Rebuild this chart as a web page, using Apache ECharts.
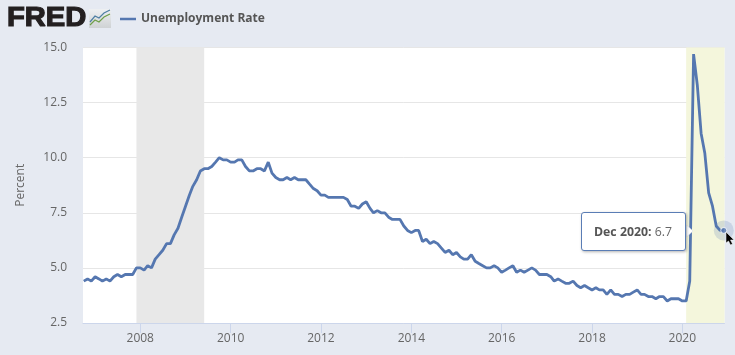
<!DOCTYPE html>
<html>
<head>
<meta charset="utf-8">
<title>Unemployment Rate</title>
<style>
	html, body { margin: 0; padding: 0; background: #e6eaf2; }
	#chart { width: 735px; height: 355px; }
</style>
<script src="https://cdn.jsdelivr.net/npm/echarts@6/dist/echarts.min.js"></script>
</head>
<body>
<div id="chart"></div>
<script>
	// monthly values from Oct 2006 to Dec 2020
	var rates = [
		4.4, 4.5, 4.4,
		4.6, 4.5, 4.4, 4.5, 4.4, 4.6, 4.7, 4.6, 4.7, 4.7, 4.7, 5.0,
		5.0, 4.9, 5.1, 5.0, 5.4, 5.6, 5.8, 6.1, 6.1, 6.5, 6.8, 7.3,
		7.8, 8.3, 8.7, 9.0, 9.4, 9.5, 9.5, 9.6, 9.8, 10.0, 9.9, 9.9,
		9.8, 9.8, 9.9, 9.9, 9.6, 9.4, 9.4, 9.5, 9.5, 9.4, 9.8, 9.3,
		9.1, 9.0, 9.0, 9.1, 9.0, 9.1, 9.0, 9.0, 9.0, 8.8, 8.6, 8.5,
		8.3, 8.3, 8.2, 8.2, 8.2, 8.2, 8.2, 8.1, 7.8, 7.8, 7.7, 7.9,
		8.0, 7.7, 7.5, 7.6, 7.5, 7.5, 7.3, 7.2, 7.2, 7.2, 6.9, 6.7,
		6.6, 6.7, 6.7, 6.2, 6.3, 6.1, 6.2, 6.1, 5.9, 5.7, 5.8, 5.6,
		5.7, 5.5, 5.4, 5.4, 5.6, 5.3, 5.2, 5.1, 5.0, 5.0, 5.1, 5.0,
		4.8, 4.9, 5.0, 5.1, 4.8, 4.9, 4.8, 4.9, 5.0, 4.9, 4.7, 4.7,
		4.7, 4.6, 4.4, 4.5, 4.4, 4.3, 4.3, 4.4, 4.2, 4.1, 4.2, 4.1,
		4.0, 4.1, 4.0, 4.0, 3.8, 4.0, 3.8, 3.8, 3.7, 3.8, 3.8, 3.9,
		4.0, 3.8, 3.8, 3.7, 3.7, 3.6, 3.7, 3.7, 3.5, 3.6, 3.6, 3.6,
		3.5, 3.5, 4.4, 14.7, 13.3, 11.1, 10.2, 8.4, 7.8, 6.9, 6.7, 6.7
	];
	var xTicks = ['2008-01-01', '2010-01-01', '2012-01-01', '2014-01-01', '2016-01-01', '2018-01-01', '2020-01-01'];
	var xRange = ['2006-09-25', '2020-12-07'];
	var recession = ['2007-12-01', '2009-06-01'];
	var highlight = ['2020-02-01', '2020-12-07'];
	var hoverMonth = '2020-12-01';
	var hoverValue = 6.7;
	var monthNames = ['Jan', 'Feb', 'Mar', 'Apr', 'May', 'Jun', 'Jul', 'Aug', 'Sep', 'Oct', 'Nov', 'Dec'];

	// ISO date strings parse as UTC
	function ts(s) { return Date.parse(s); }

	var points = [];
	var y = 2006, m = 10;
	for (var i = 0; i < rates.length; i++) {
		points.push([Date.UTC(y, m - 1, 1), rates[i]]);
		m++;
		if (m > 12) { m = 1; y++; }
	}

	var font = '"Open Sans", sans-serif';
	var lineColor = '#5577b0';
	var myChart = echarts.init(document.getElementById('chart'));

	var option = {
		animation: false,
		backgroundColor: '#e6eaf2',
		textStyle: { fontFamily: font },
		grid: { left: 83, right: 10.5, top: 47.5, bottom: 32, backgroundColor: '#fff', show: true, borderWidth: 0 },
		legend: {
			data: ['Unemployment Rate'],
			left: 115,
			top: 8,
			icon: 'rect',
			itemWidth: 16,
			itemHeight: 2.5,
			textStyle: { color: '#555', fontSize: 12, fontWeight: 'bold', fontFamily: font }
		},
		tooltip: {
			trigger: 'item',
			alwaysShowContent: true,
			transitionDuration: 0,
			backgroundColor: '#fff',
			borderColor: '#5a7db5',
			borderWidth: 1,
			padding: [10, 13, 10, 12],
			textStyle: { color: '#666', fontSize: 12.3, lineHeight: 17, fontFamily: font },
			extraCssText: 'border-radius:3px;box-shadow:1px 1px 3px rgba(0,0,0,.3);white-space:nowrap;',
			position: function () { return [581, 212]; },
			formatter: function () {
				var parts = hoverMonth.split('-');
				return '<b style="color:#555">' + monthNames[+parts[1] - 1] + ' ' + parts[0] + ':</b> ' + hoverValue;
			}
		},
		xAxis: {
			type: 'value',
			min: ts(xRange[0]),
			max: ts(xRange[1]),
			axisLine: { lineStyle: { color: '#ccd6eb', width: 1 } },
			axisTick: { show: true, length: 10, customValues: xTicks.map(ts), lineStyle: { color: '#ccd6eb' } },
			axisLabel: {
				customValues: xTicks.map(ts),
				color: '#666',
				fontSize: 12,
				margin: 10,
				formatter: function (v) { return String(new Date(v).getUTCFullYear()); }
			},
			splitLine: { show: false }
		},
		yAxis: {
			type: 'value',
			min: 2.5,
			max: 15,
			interval: 2.5,
			name: 'Percent',
			nameLocation: 'middle',
			nameGap: 56,
			nameTextStyle: { color: '#666', fontSize: 12 },
			axisLine: { show: false },
			axisTick: { show: false },
			axisLabel: {
				color: '#666',
				fontSize: 12,
				margin: 16,
				formatter: function (v) { return v.toFixed(1); }
			},
			splitLine: { lineStyle: { color: '#e6e6e6', width: 1 } }
		},
		series: [
			{
				name: 'Unemployment Rate',
				type: 'line',
				data: points,
				showSymbol: false,
				silent: true,
				lineStyle: { color: lineColor, width: 2.8 },
				itemStyle: { color: lineColor },
				markArea: {
					silent: true,
					data: [
						[{ xAxis: ts(recession[0]), itemStyle: { color: '#e8e8e8' } }, { xAxis: ts(recession[1]) }],
						[{ xAxis: ts(highlight[0]), itemStyle: { color: '#f4f6dc' } }, { xAxis: ts(highlight[1]) }]
					]
				}
			},
			{
				name: 'hover halo',
				type: 'scatter',
				clip: false,
				data: [[ts(hoverMonth), hoverValue]],
				symbolSize: 20,
				itemStyle: { color: 'rgba(85,119,176,.25)' },
				z: 3
			},
			{
				name: 'hover',
				type: 'scatter',
				clip: false,
				data: [[ts(hoverMonth), hoverValue]],
				symbolSize: 6,
				itemStyle: { color: lineColor, borderColor: '#fff', borderWidth: 1 },
				z: 4
			}
		],
		graphic: [
			// logo
			{
				type: 'text', x: 7, y: 5.5, scaleX: 1.08,
				style: { text: 'FRED', fontFamily: '"Liberation Sans", sans-serif', fontWeight: 'bold', fontSize: 27, fill: '#231f20', stroke: '#231f20', lineWidth: 1.2 }
			},
			{
				type: 'rect', shape: { x: 89, y: 9, width: 22, height: 19 },
				style: { fill: new echarts.graphic.LinearGradient(0, 0, 0, 1, [{ offset: 0, color: '#eef0f2' }, { offset: 1, color: '#cfd2d4' }]) }
			},
			{ type: 'polyline', shape: { points: [[90, 25], [95, 20], [99, 22], [104, 17], [110, 14]] }, style: { stroke: '#6f9f4a', fill: null, lineWidth: 1.2 } },
			{ type: 'polyline', shape: { points: [[90, 22], [95, 16], [99, 18], [104, 13], [110, 10]] }, style: { stroke: '#4f7fa3', fill: null, lineWidth: 1.2 } },
			// tooltip arrow
			{ type: 'polygon', z: 100, shape: { points: [[686.5, 225], [693, 231], [686.5, 237]] }, style: { fill: '#fff', stroke: '#d5dbe6', lineWidth: 0.5 } },
			// mouse pointer
			{
				type: 'polygon', z: 100,
				shape: { points: [[726, 232], [726, 243], [728.5, 241], [730.5, 245], [732.5, 244], [730.5, 240], [734, 240]] },
				style: { fill: '#000', stroke: '#fff', lineWidth: 0.5 }
			}
		]
	};
	myChart.setOption(option);
	myChart.dispatchAction({ type: 'showTip', seriesIndex: 2, dataIndex: 0 });
</script>
</body>
</html>
